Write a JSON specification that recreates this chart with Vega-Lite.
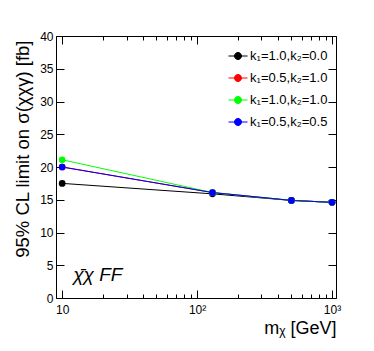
{
  "$schema": "https://vega.github.io/schema/vega-lite/v6.json",
  "width": 280,
  "height": 262,
  "autosize": {"type": "none"},
  "padding": {"left": 56, "top": 36, "right": 38, "bottom": 53},
  "background": "white",
  "config": {
    "view": {"stroke": "#000000", "strokeWidth": 1},
    "axis": {"domain": false, "grid": false, "labelFont": "Liberation Sans", "labelFontSize": 12, "labelColor": "#000000", "tickColor": "#000000", "tickWidth": 1, "titleFont": "Liberation Sans", "titleFontWeight": "normal", "titleColor": "#000000"}
  },
  "datasets": {
    "limits": [
      {"s": "k₁=1.0,k₂=0.0", "m": 10, "lim": 17.5},
      {"s": "k₁=1.0,k₂=0.0", "m": 130, "lim": 15.9},
      {"s": "k₁=1.0,k₂=0.0", "m": 500, "lim": 14.9},
      {"s": "k₁=1.0,k₂=0.0", "m": 1000, "lim": 14.6},
      {"s": "k₁=0.5,k₂=1.0", "m": 10, "lim": 20.0},
      {"s": "k₁=0.5,k₂=1.0", "m": 130, "lim": 16.1},
      {"s": "k₁=0.5,k₂=1.0", "m": 500, "lim": 14.9},
      {"s": "k₁=0.5,k₂=1.0", "m": 1000, "lim": 14.6},
      {"s": "k₁=1.0,k₂=1.0", "m": 10, "lim": 21.1},
      {"s": "k₁=1.0,k₂=1.0", "m": 130, "lim": 16.1},
      {"s": "k₁=1.0,k₂=1.0", "m": 500, "lim": 14.9},
      {"s": "k₁=1.0,k₂=1.0", "m": 1000, "lim": 14.6},
      {"s": "k₁=0.5,k₂=0.5", "m": 10, "lim": 20.0},
      {"s": "k₁=0.5,k₂=0.5", "m": 130, "lim": 16.1},
      {"s": "k₁=0.5,k₂=0.5", "m": 500, "lim": 14.9},
      {"s": "k₁=0.5,k₂=0.5", "m": 1000, "lim": 14.6}
    ],
    "note": [{"m": 12.06, "lim": 2.6, "t": "χ̄χ FF"}]
  },
  "layer": [
    {
      "data": {"name": "limits"},
      "mark": {"type": "line", "strokeWidth": 1},
      "encoding": {
        "x": {"field": "m", "type": "quantitative",
          "scale": {"type": "log", "domain": [9, 1070], "nice": false},
          "axis": {"orient": "bottom", "values": [10, 100, 1000], "tickSize": -8, "labelPadding": 14,
            "labelExpr": "datum.value == 10 ? '10' : datum.value == 100 ? '10²' : '10³'",
            "title": "mᵪ [GeV]", "titleFontSize": 18, "titleX": 280, "titleY": 35, "titleAlign": "right", "titleBaseline": "alphabetic", "titleAngle": 0}},
        "y": {"field": "lim", "type": "quantitative",
          "scale": {"domain": [0, 40], "nice": false},
          "axis": {"orient": "left", "values": [0, 5, 10, 15, 20, 25, 30, 35, 40], "tickSize": -8, "labelPadding": 11,
            "title": "95% CL limit on σ(χχγ) [fb]", "titleFontSize": 18.5, "titleAngle": -90, "titleX": -34, "titleY": 4, "titleAlign": "right", "titleBaseline": "middle"}},
        "color": {"field": "s", "type": "nominal",
          "scale": {"domain": ["k₁=1.0,k₂=0.0", "k₁=0.5,k₂=1.0", "k₁=1.0,k₂=1.0", "k₁=0.5,k₂=0.5"], "range": ["#000000", "#ff0000", "#00ff00", "#0000ff"]},
          "legend": {"orient": "none", "legendX": 172, "legendY": 10, "title": null,
            "symbolType": "M-1,0L1,0M-0.37,0A0.37,0.37,0,1,1,0.37,0A0.37,0.37,0,1,1,-0.37,0Z",
            "symbolSize": 361, "symbolStrokeWidth": 1, "labelFont": "Liberation Sans", "labelFontSize": 13, "labelColor": "#000000",
            "rowPadding": 5, "labelOffset": 2, "padding": 0,
            "encode": {"symbols": {"update": {"fill": {"scale": "color", "field": "value"}, "stroke": {"scale": "color", "field": "value"}, "opacity": {"value": 1}, "fillOpacity": {"value": 1}}}}}}
      }
    },
    {
      "data": {"name": "limits"},
      "mark": {"type": "point", "filled": true, "size": 45, "opacity": 1},
      "encoding": {
        "x": {"field": "m", "type": "quantitative",
          "axis": {"orient": "bottom", "values": [20, 30, 40, 50, 60, 70, 80, 90, 200, 300, 400, 500, 600, 700, 800, 900], "tickSize": -4, "labels": false, "title": null}},
        "y": {"field": "lim", "type": "quantitative",
          "axis": {"orient": "right", "values": [0, 5, 10, 15, 20, 25, 30, 35, 40], "tickSize": -8, "labels": false, "title": null}},
        "color": {"field": "s", "type": "nominal"}
      }
    },
    {
      "data": {"name": "note"},
      "mark": {"type": "text", "font": "Liberation Sans", "fontStyle": "italic", "fontSize": 19, "align": "left", "baseline": "alphabetic", "color": "#000000"},
      "encoding": {
        "x": {"field": "m", "type": "quantitative",
          "axis": {"orient": "top", "values": [10, 100, 1000], "tickSize": -8, "labels": false, "title": null}},
        "y": {"field": "lim", "type": "quantitative", "axis": null},
        "text": {"field": "t"}
      }
    },
    {
      "data": {"name": "note"},
      "mark": {"type": "point", "opacity": 0},
      "encoding": {
        "x": {"field": "m", "type": "quantitative",
          "axis": {"orient": "top", "values": [20, 30, 40, 50, 60, 70, 80, 90, 200, 300, 400, 500, 600, 700, 800, 900], "tickSize": -4, "labels": false, "title": null}},
        "y": {"field": "lim", "type": "quantitative", "axis": null}
      }
    }
  ],
  "resolve": {"axis": {"x": "independent", "y": "independent"}}
}
